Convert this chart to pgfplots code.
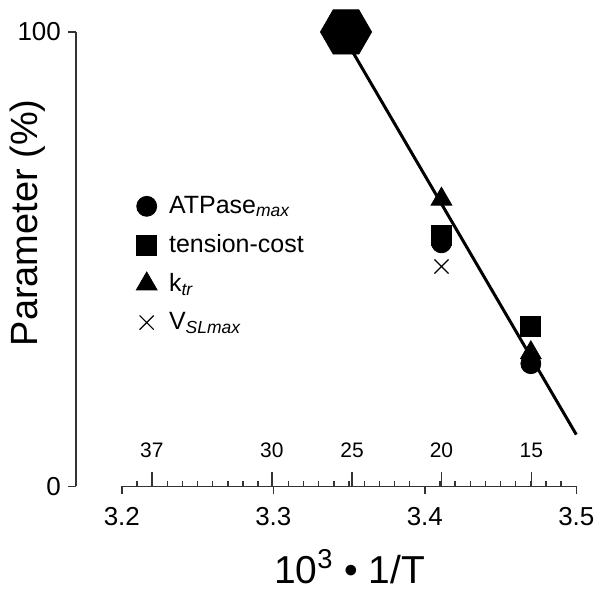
\documentclass[border=0pt]{standalone}
\usepackage{fontspec}
\setmainfont{Liberation Sans}
\usepackage{pgfplots}
\pgfplotsset{compat=1.18}
\usetikzlibrary{calc}

% flat-topped hexagon for the 100% reference point
\pgfdeclareplotmark{hexagon*}{%
  \pgfpathmoveto{\pgfqpointpolar{0}{\pgfplotmarksize}}%
  \pgfpathlineto{\pgfqpointpolar{60}{\pgfplotmarksize}}%
  \pgfpathlineto{\pgfqpointpolar{120}{\pgfplotmarksize}}%
  \pgfpathlineto{\pgfqpointpolar{180}{\pgfplotmarksize}}%
  \pgfpathlineto{\pgfqpointpolar{240}{\pgfplotmarksize}}%
  \pgfpathlineto{\pgfqpointpolar{300}{\pgfplotmarksize}}%
  \pgfpathclose\pgfusepathqfillstroke}

\begin{document}
\begin{tikzpicture}
\pgfplotsset{
  every axis/.append style={
    /pgf/number format/assume math mode=true,
    tick label style={font=\fontsize{13}{15}\selectfont, black},
    axis line style={-, black!80, line width=0.7pt},
    every tick/.style={black!80, line width=0.7pt},
  }
}
\begin{axis}[
  name=main,
  scale only axis,
  width=250.5pt, height=227.5pt,
  xmin=3.1697, xmax=3.5,
  ymin=0, ymax=100,
  clip=false,
  axis x line=none,
  axis y line*=left,
  ytick={0,100},
  tick align=outside,
  major tick length=4pt,
  ylabel={Parameter (\%)},
  ylabel style={font=\fontsize{19}{22}\selectfont, at={(axis description cs:-0.096,0.58)}, anchor=center},
  legend style={at={(axis description cs:0.108,0.657)}, anchor=north west, draw=none, fill=none,
    font=\fontsize{12.5}{15}\selectfont, row sep=5pt,
    /tikz/every odd column/.append style={column sep=4pt}},
  legend cell align=left,
]
% regression line and 100% reference
\addplot[forget plot, black, line width=1.5pt] coordinates {(3.3447,100) (3.5,11.4)};
\addplot[forget plot, only marks, mark=hexagon*, mark size=12.8pt, black] coordinates {(3.348,100)};

\addplot[only marks, mark=*, mark size=5pt, black] coordinates {(3.411,53.6) (3.470,27.0)};
\addlegendentry{ATPase\textsubscript{\textit{max}}}
\addplot[only marks, mark=square*, mark size=5pt, black] coordinates {(3.411,55.2) (3.470,35.2)};
\addlegendentry{tension-cost}
\addplot[only marks, mark=triangle*, mark size=6pt, black] coordinates {(3.411,63.2) (3.470,29.4)};
\addlegendentry{k\textsubscript{\textit{tr}}}
\addplot[only marks, mark=x, mark size=5pt, black, mark options={line width=0.6pt}] coordinates {(3.411,48.4)};
\addlegendentry{V\textsubscript{\textit{SLmax}}}
\end{axis}

\begin{axis}[
  at={($(main.south west)+(23pt,0)$)}, anchor=south west,
  scale only axis,
  width=227.5pt, height=227.5pt,
  xmin=3.2, xmax=3.5,
  ymin=0, ymax=100,
  axis y line=none,
  axis x line*=bottom,
  xtick={3.2,3.3,3.4,3.5},
  minor x tick num=9,
  tick align=outside,
  major tick length=4pt,
  minor tick length=-2.5pt,
  xticklabel style={yshift=-3pt},
  xlabel={10\textsuperscript{3} • 1/T},
  xlabel style={font=\fontsize{19.5}{22}\selectfont, at={(axis description cs:0.501,-0.176)}, anchor=center},
  extra x ticks={3.2198,3.299,3.352,3.411,3.4703},
  extra x tick labels={37,30,25,20,15},
  extra x tick style={tick align=inside, major tick length=7pt,
    xticklabel style={font=\fontsize{10.5}{12}\selectfont, anchor=south, yshift=14pt}},
]
\end{axis}
\path ($(main.south west)+(-38pt,-53pt)$) rectangle ++(300.5pt,296.5pt);
\end{tikzpicture}
\end{document}
